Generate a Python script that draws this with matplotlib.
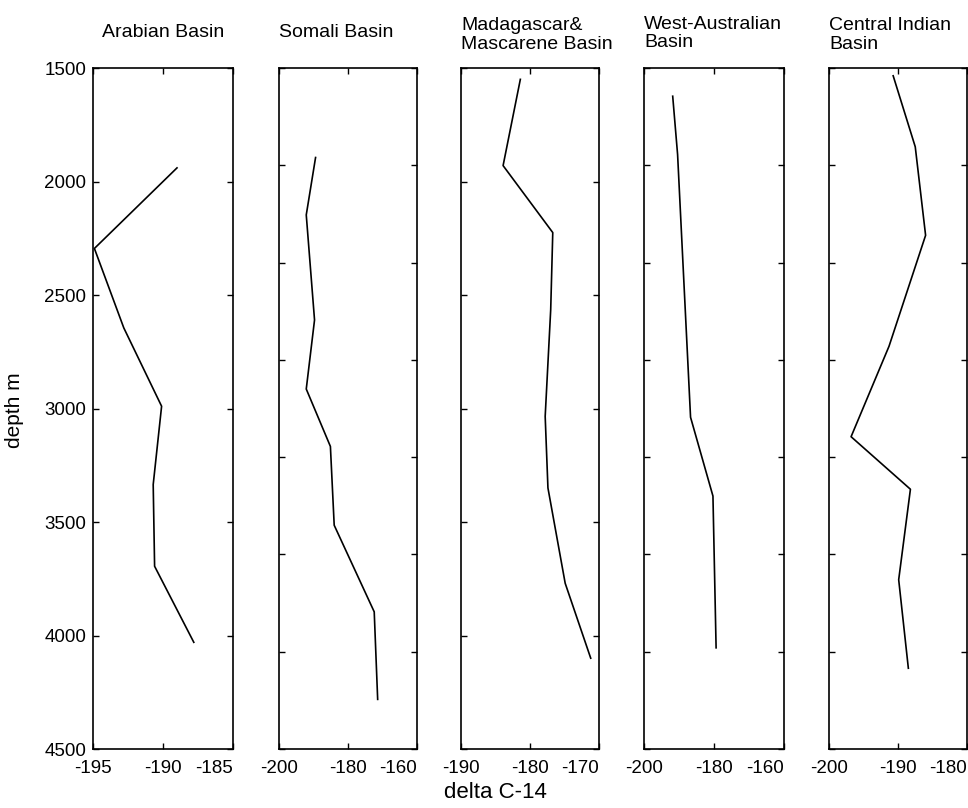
import matplotlib
matplotlib.use('Agg')
import matplotlib.pyplot as plt

plt.rcParams['font.family'] = ['Liberation Sans', 'DejaVu Sans']
plt.rcParams['axes.unicode_minus'] = False

# delta C-14 profiles
titles = ['Arabian Basin', 'Somali Basin', 'Madagascar&\nMascarene Basin',
          'West-Australian\nBasin', 'Central Indian\nBasin']

arabian_d14 = [-189.0, -194.9, -192.8, -190.1, -190.7, -190.6, -187.8]
arabian_depth = [1940, 2295, 2645, 2990, 3335, 3695, 4030]

somali_d14 = [-189.4, -192.1, -189.7, -192.1, -185.1, -184.0, -172.4, -171.4]
somali_depth = [1960, 2255, 2795, 3150, 3445, 3850, 4295, 4745]

madagascar_d14 = [-181.4, -183.9, -176.7, -177.0, -177.8, -177.4, -174.9, -171.2]
madagascar_depth = [1550, 1930, 2225, 2565, 3035, 3350, 3770, 4100]

westaus_d14 = [-191.8, -190.4, -186.7, -180.3, -179.4]
westaus_depth = [1645, 1945, 3295, 3700, 4480]

central_d14 = [-190.7, -187.5, -186.0, -191.3, -196.8, -188.2, -189.9, -188.5]
central_depth = [1540, 1905, 2360, 2930, 3395, 3665, 4130, 4585]

xlims = [(-195, -185), (-200, -160), (-190, -170), (-200, -160), (-200, -180)]
xticks = [[-195, -190, -185], [-200, -180, -160], [-190, -180, -170],
          [-200, -180, -160], [-200, -190, -180]]
ylims = [(1500, 4500), (1500, 5000), (1500, 4500), (1500, 5000), (1500, 5000)]

data = [(arabian_d14, arabian_depth), (somali_d14, somali_depth),
        (madagascar_d14, madagascar_depth), (westaus_d14, westaus_depth),
        (central_d14, central_depth)]

fig = plt.figure(figsize=(9.68, 8.08), dpi=100)

lefts = [93, 279, 461, 644, 829]
rights = [233, 417, 599, 784, 967]
title_pads = [22, 22, 14, 15, 14]

for i in range(5):
    ax = fig.add_axes([lefts[i] / 968, 1 - 749 / 808,
                       (rights[i] - lefts[i]) / 968, 681 / 808])
    x, y = data[i]
    ax.plot(x, y, color='black', linewidth=1.2)
    ax.set_xlim(xlims[i])
    ax.set_ylim(ylims[i][1], ylims[i][0])
    ax.set_xticks(xticks[i])
    ax.set_xticklabels([str(v) for v in xticks[i]])
    ax.get_xticklabels()[-1].set_horizontalalignment('right')
    ax.set_yticks(range(ylims[i][0], ylims[i][1] + 1, 500))
    if i > 0:
        ax.set_yticklabels([])
    ax.tick_params(direction='in', top=True, right=True, length=4, width=1,
                   labelsize=13.5)
    ax.tick_params(axis='x', pad=8)
    ax.tick_params(axis='y', pad=5)
    for s in ax.spines.values():
        s.set_linewidth(1.2)
    if i == 0:
        ax.set_title(titles[i], fontsize=14, pad=title_pads[i])
    else:
        ax.set_title(titles[i], fontsize=14, loc='left', pad=title_pads[i],
                     linespacing=1.1)

fig.text(15 / 968, 1 - 410 / 808, 'depth m', rotation=90, fontsize=15,
         ha='center', va='center')
fig.text(495 / 968, 1 - 793 / 808, 'delta C-14', fontsize=16,
         ha='center', va='center')

fig.savefig('out.png', dpi=100)
